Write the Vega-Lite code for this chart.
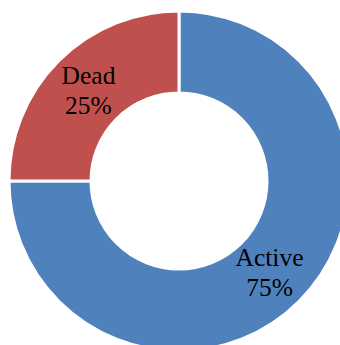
{
  "$schema": "https://vega.github.io/schema/vega-lite/v6.json",
  "width": 358,
  "height": 362,
  "padding": 0,
  "autosize": "none",
  "background": "white",
  "view": {"stroke": null},
  "data": {"values": [
    {"status": "Active", "value": 75, "label": ["Active", "75%"], "ord": 1},
    {"status": "Dead", "value": 25, "label": ["Dead", "25%"], "ord": 2}
  ]},
  "encoding": {
    "theta": {"field": "value", "type": "quantitative", "stack": true},
    "order": {"field": "ord", "type": "quantitative"}
  },
  "layer": [
    {
      "mark": {"type": "arc", "outerRadius": 170, "innerRadius": 88, "stroke": "white", "strokeWidth": 3},
      "encoding": {
        "color": {"field": "status", "type": "nominal", "scale": {"domain": ["Active", "Dead"], "range": ["#4F81BD", "#C0504D"]}, "legend": null}
      }
    },
    {
      "mark": {"type": "text", "radius": 128, "dy": -14, "font": "Liberation Serif", "fontSize": 25.5, "lineHeight": 30, "color": "black", "align": "center", "baseline": "middle"},
      "encoding": {
        "text": {"field": "label"}
      }
    }
  ]
}
